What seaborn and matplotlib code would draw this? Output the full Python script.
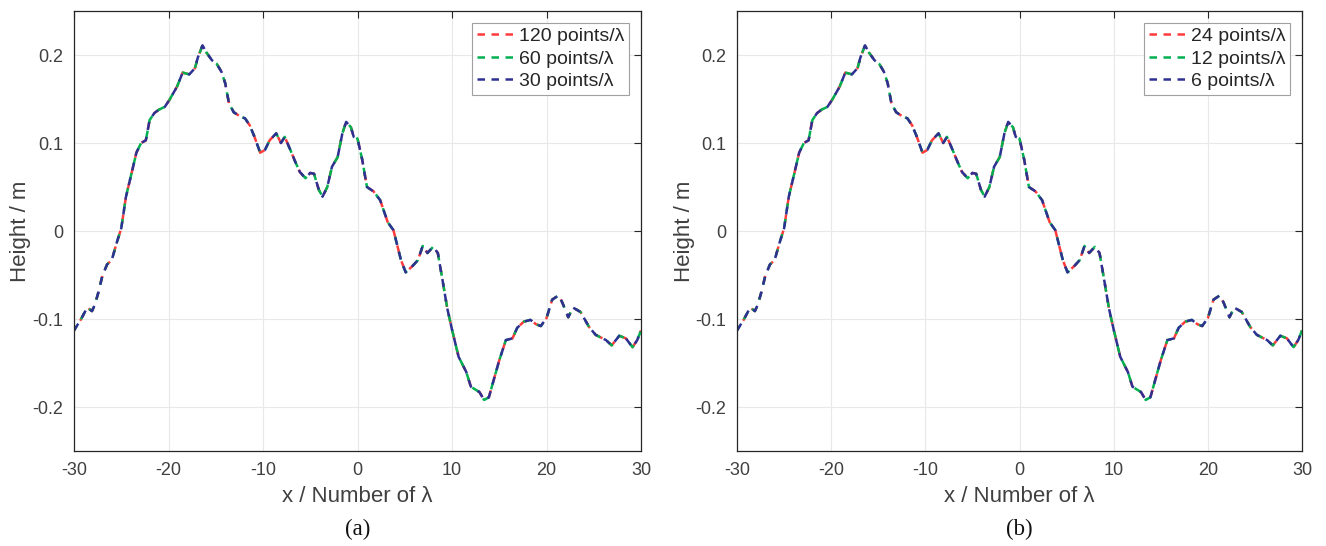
import numpy as np
import pandas as pd
import seaborn as sns
from matplotlib import pyplot as plt

# surface profile (x in wavelengths, height in m)
x_lambda = [
    -30.0, -29.3, -28.6, -28.1, -27.8, -27.4, -27.0, -26.5, -26.0, -25.5,
    -25.0, -24.5, -23.9, -23.4, -22.9, -22.4, -22.0, -21.5, -21.0, -20.4,
    -19.9, -19.1, -18.5, -17.8, -17.2, -16.9, -16.4, -16.0, -15.4, -14.9,
    -14.4, -14.0, -13.6, -13.1, -12.4, -11.9, -11.4, -10.9, -10.3, -9.8,
    -9.3, -8.6, -8.1, -7.7, -7.1, -6.6, -6.1, -5.5, -5.0, -4.6,
    -4.1, -3.7, -3.2, -2.7, -2.1, -1.6, -1.2, -0.7, -0.4, 0.0,
    0.5, 1.0, 1.7, 2.4, 3.2, 3.8, 4.6, 5.1, 5.8, 6.4,
    6.9, 7.4, 8.0, 8.5, 9.0, 9.5, 10.0, 10.7, 11.5, 12.0,
    12.9, 13.4, 13.9, 14.5, 15.0, 15.7, 16.4, 16.9, 17.6, 18.3,
    18.9, 19.4, 20.0, 20.6, 21.3, 21.7, 22.3, 22.8, 23.6, 24.5,
    25.2, 26.3, 26.9, 27.7, 28.4, 29.1, 29.6, 30.0,
]
height_m = [
    -0.113, -0.101, -0.087, -0.091, -0.084, -0.069, -0.051, -0.038, -0.033, -0.014,
    0.003, 0.039, 0.066, 0.089, 0.100, 0.103, 0.126, 0.134, 0.138, 0.141,
    0.149, 0.164, 0.180, 0.178, 0.185, 0.197, 0.211, 0.203, 0.194, 0.190,
    0.181, 0.168, 0.145, 0.135, 0.130, 0.128, 0.120, 0.107, 0.089, 0.092,
    0.103, 0.111, 0.100, 0.107, 0.092, 0.079, 0.067, 0.060, 0.066, 0.065,
    0.047, 0.039, 0.050, 0.073, 0.084, 0.111, 0.124, 0.118, 0.107, 0.105,
    0.081, 0.050, 0.045, 0.035, 0.010, 0.001, -0.033, -0.047, -0.040, -0.033,
    -0.017, -0.025, -0.018, -0.025, -0.056, -0.088, -0.112, -0.143, -0.160, -0.177,
    -0.183, -0.192, -0.189, -0.166, -0.147, -0.124, -0.122, -0.110, -0.103, -0.101,
    -0.106, -0.108, -0.099, -0.078, -0.073, -0.082, -0.098, -0.087, -0.092, -0.109,
    -0.118, -0.124, -0.130, -0.119, -0.122, -0.132, -0.124, -0.113,
]

labels_a = ['120 points/λ', '60 points/λ', '30 points/λ']
labels_b = ['24 points/λ', '12 points/λ', '6 points/λ']
captions = ['(a)', '(b)']
line_colors = ['#ff3b3b', '#00b050', '#2e3192']
x_ticks = [-30, -20, -10, 0, 10, 20, 30]
y_ticks = [-0.2, -0.1, 0, 0.1, 0.2]
y_ticklabels = ['-0.2', '-0.1', '0', '0.1', '0.2']

sns.set_theme(style='white')
plt.rcParams['font.family'] = ['Liberation Sans', 'DejaVu Sans']
plt.rcParams['axes.unicode_minus'] = False

text_col = '#404040'
profile = pd.DataFrame({'x': x_lambda, 'h': height_m})

# red, green, blue dash patterns drift against each other like the original
dash_styles = [(2.0, (3.2, 3.4)), (1.0, (3.2, 3.05)), (0.0, (3.2, 2.8))]

fig = plt.figure(figsize=(13.26, 5.46), dpi=100)
ax_a = fig.add_axes([74 / 1326, 95 / 546, 567 / 1326, 440 / 546])
ax_b = fig.add_axes([737 / 1326, 95 / 546, 565 / 1326, 440 / 546])

for ax, labels, cap in zip([ax_a, ax_b], [labels_a, labels_b], captions):
    for lab, col, ls in zip(labels, line_colors, dash_styles):
        sns.lineplot(data=profile, x='x', y='h', ax=ax, color=col, label=lab,
                     linewidth=1.8, sort=False, estimator=None)
        ax.lines[-1].set_linestyle(ls)
        ax.lines[-1].set_dash_joinstyle('round')

    ax.set_xlim(-30, 30)
    ax.set_ylim(-0.25, 0.25)
    ax.set_xticks(x_ticks)
    ax.set_yticks(y_ticks)
    ax.set_yticklabels(y_ticklabels)
    ax.grid(True, color='#e8e8e8', linewidth=0.8)
    ax.tick_params(direction='in', length=5, width=0.8, top=True, right=True,
                   labelsize=13, colors='#262626', labelcolor=text_col, pad=8)
    for sp in ax.spines.values():
        sp.set_visible(True)
        sp.set_color('#262626')
        sp.set_linewidth(0.9)

    ax.set_xlabel('x / Number of λ', fontsize=16, color=text_col)
    ax.set_ylabel('Height / m', fontsize=16, color=text_col)
    ax.xaxis.set_label_coords(0.5, -0.08)
    ax.yaxis.set_label_coords(-0.075, 0.5)

    leg = ax.legend(loc='upper right', fontsize=14, frameon=True, fancybox=False,
                    edgecolor='#a0a0a0', framealpha=1, handlelength=2.0,
                    handletextpad=0.15, labelspacing=0.25, borderpad=0.25,
                    borderaxespad=0.6)
    leg.get_frame().set_linewidth(0.8)
    # clean "- - -" handles in the legend
    for h in leg.get_lines():
        h.set_linestyle((0, (3.0, 2.6)))

    box = ax.get_position()
    fig.text(box.x0 + box.width / 2, 0.03, cap, ha='center', va='center',
             fontsize=16.5, family='Liberation Serif', color='#111111')

fig.savefig('out.png', dpi=100)
